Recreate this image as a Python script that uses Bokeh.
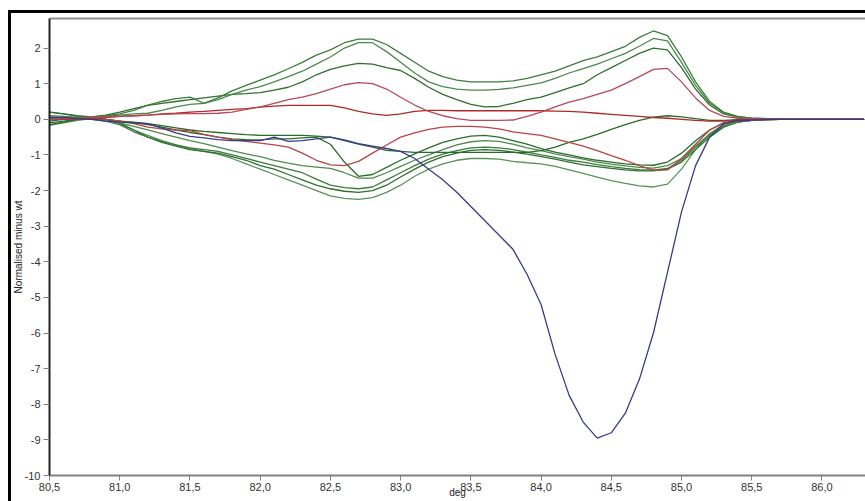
from bokeh.plotting import figure
from bokeh.models import FixedTicker, LinearAxis, Range1d
from bokeh.embed import file_html
from bokeh.resources import INLINE

deg = [80.5, 80.6, 80.7, 80.8, 80.9, 81.0, 81.1, 81.2, 81.3, 81.4,
       81.5, 81.6, 81.7, 81.8, 81.9, 82.0, 82.1, 82.2, 82.3, 82.4,
       82.5, 82.6, 82.7, 82.8, 82.9, 83.0, 83.1, 83.2, 83.3, 83.4,
       83.5, 83.6, 83.7, 83.8, 83.9, 84.0, 84.1, 84.2, 84.3, 84.4,
       84.5, 84.6, 84.7, 84.8, 84.9, 85.0, 85.1, 85.2, 85.3, 85.4,
       85.5, 85.6, 85.7, 85.8, 85.9, 86.0, 86.1, 86.2, 86.3]

upper_green_1 = [0.05, 0.05, 0.05, 0.06, 0.10, 0.15, 0.25, 0.40, 0.50, 0.58,
                 0.62, 0.45, 0.60, 0.80, 0.95, 1.10, 1.25, 1.42, 1.60, 1.80,
                 1.95, 2.15, 2.25, 2.25, 2.10, 1.85, 1.60, 1.35, 1.20, 1.10,
                 1.05, 1.05, 1.05, 1.08, 1.15, 1.25, 1.35, 1.50, 1.65, 1.75,
                 1.90, 2.05, 2.30, 2.48, 2.35, 1.75, 1.05, 0.50, 0.20, 0.08,
                 0.03, 0.02, 0.01, 0.01, 0.00, 0.00, 0.00, 0.00, 0.00]
upper_green_2 = [0.10, 0.08, 0.05, 0.05, 0.08, 0.12, 0.15, 0.17, 0.25, 0.35,
                 0.42, 0.45, 0.55, 0.70, 0.82, 0.92, 1.05, 1.20, 1.35, 1.55,
                 1.75, 2.00, 2.15, 2.15, 1.90, 1.60, 1.30, 1.05, 0.92, 0.85,
                 0.82, 0.82, 0.84, 0.88, 0.95, 1.02, 1.15, 1.30, 1.42, 1.55,
                 1.70, 1.85, 2.05, 2.27, 2.20, 1.60, 0.95, 0.45, 0.18, 0.07,
                 0.03, 0.02, 0.01, 0.01, 0.00, 0.00, 0.00, 0.00, 0.00]
upper_green_3 = [0.20, 0.15, 0.10, 0.07, 0.12, 0.20, 0.30, 0.39, 0.45, 0.50,
                 0.55, 0.60, 0.65, 0.70, 0.72, 0.75, 0.82, 0.90, 1.05, 1.25,
                 1.40, 1.50, 1.57, 1.55, 1.45, 1.37, 1.15, 0.90, 0.70, 0.55,
                 0.42, 0.35, 0.36, 0.45, 0.55, 0.62, 0.75, 0.88, 1.00, 1.25,
                 1.45, 1.65, 1.85, 2.00, 1.95, 1.45, 0.85, 0.40, 0.15, 0.06,
                 0.03, 0.02, 0.01, 0.00, 0.00, 0.00, 0.00, 0.00, 0.00]
upper_red = [0.00, 0.02, 0.03, 0.05, 0.06, 0.08, 0.10, 0.12, 0.14, 0.15,
             0.16, 0.16, 0.17, 0.20, 0.28, 0.35, 0.45, 0.55, 0.62, 0.72,
             0.85, 0.97, 1.03, 1.00, 0.85, 0.62, 0.40, 0.22, 0.10, 0.02,
             -0.03, -0.03, -0.03, -0.02, 0.08, 0.20, 0.35, 0.48, 0.58, 0.70,
             0.82, 1.00, 1.20, 1.40, 1.43, 1.05, 0.60, 0.25, 0.08, 0.03,
             0.02, 0.01, 0.00, 0.00, 0.00, 0.00, 0.00, 0.00, 0.00]
middle_red = [0.00, 0.00, 0.02, 0.03, 0.05, 0.08, 0.10, 0.12, 0.15, 0.17,
              0.20, 0.22, 0.25, 0.28, 0.30, 0.34, 0.37, 0.39, 0.39, 0.39,
              0.39, 0.32, 0.22, 0.15, 0.11, 0.15, 0.22, 0.25, 0.25, 0.24,
              0.24, 0.24, 0.24, 0.24, 0.24, 0.24, 0.23, 0.22, 0.20, 0.17,
              0.14, 0.11, 0.08, 0.05, 0.03, 0.00, -0.03, -0.05, -0.05, -0.03,
              -0.01, 0.00, 0.00, 0.00, 0.00, 0.00, 0.00, 0.00, 0.00]
lower_red = [0.00, 0.00, 0.02, 0.03, 0.00, -0.05, -0.12, -0.22, -0.27, -0.30,
             -0.32, -0.42, -0.50, -0.57, -0.62, -0.67, -0.72, -0.78, -0.95, -1.15,
             -1.28, -1.30, -1.18, -0.95, -0.72, -0.50, -0.38, -0.28, -0.22, -0.20,
             -0.20, -0.22, -0.27, -0.35, -0.40, -0.45, -0.55, -0.65, -0.75, -0.88,
             -1.02, -1.15, -1.30, -1.43, -1.42, -1.10, -0.70, -0.30, -0.10, -0.04,
             -0.02, -0.01, 0.00, 0.00, 0.00, 0.00, 0.00, 0.00, 0.00]
rising_green = [-0.15, -0.08, 0.00, 0.00, 0.00, -0.05, -0.08, -0.12, -0.18, -0.24,
                -0.30, -0.34, -0.37, -0.40, -0.43, -0.45, -0.45, -0.45, -0.45, -0.47,
                -0.50, -0.60, -0.70, -0.78, -0.87, -0.90, -0.93, -0.93, -0.93, -0.93,
                -0.93, -0.93, -0.93, -0.93, -0.93, -0.88, -0.78, -0.65, -0.55, -0.42,
                -0.28, -0.15, -0.03, 0.06, 0.10, 0.07, 0.02, -0.03, -0.03, -0.01,
                0.00, 0.00, 0.00, 0.00, 0.00, 0.00, 0.00, 0.00, 0.00]
lower_green_1 = [-0.05, 0.00, 0.03, 0.03, 0.00, -0.05, -0.10, -0.15, -0.22, -0.30,
                 -0.37, -0.43, -0.50, -0.55, -0.57, -0.58, -0.55, -0.55, -0.52, -0.50,
                 -0.70, -1.20, -1.60, -1.55, -1.35, -1.15, -0.97, -0.80, -0.65, -0.55,
                 -0.47, -0.45, -0.50, -0.60, -0.70, -0.82, -0.92, -1.00, -1.08, -1.15,
                 -1.20, -1.25, -1.28, -1.29, -1.20, -0.95, -0.60, -0.30, -0.10, -0.04,
                 -0.02, -0.01, 0.00, 0.00, 0.00, 0.00, 0.00, 0.00, 0.00]
lower_green_2 = [0.05, 0.03, 0.02, 0.00, -0.05, -0.10, -0.20, -0.30, -0.40, -0.50,
                 -0.60, -0.68, -0.78, -0.88, -0.97, -1.05, -1.15, -1.23, -1.30, -1.34,
                 -1.38, -1.50, -1.65, -1.65, -1.50, -1.32, -1.15, -1.00, -0.85, -0.72,
                 -0.63, -0.60, -0.62, -0.70, -0.80, -0.88, -0.97, -1.05, -1.12, -1.20,
                 -1.26, -1.31, -1.35, -1.37, -1.30, -1.10, -0.75, -0.42, -0.18, -0.07,
                 -0.03, -0.01, 0.00, 0.00, 0.00, 0.00, 0.00, 0.00, 0.00]
lower_green_3 = [0.20, 0.15, 0.08, 0.03, -0.05, -0.15, -0.35, -0.50, -0.62, -0.72,
                 -0.80, -0.85, -0.90, -1.00, -1.10, -1.20, -1.30, -1.40, -1.50, -1.68,
                 -1.85, -1.92, -1.95, -1.90, -1.70, -1.50, -1.30, -1.12, -0.98, -0.88,
                 -0.80, -0.78, -0.80, -0.85, -0.92, -1.00, -1.07, -1.15, -1.20, -1.27,
                 -1.33, -1.38, -1.41, -1.43, -1.38, -1.15, -0.78, -0.45, -0.20, -0.08,
                 -0.03, -0.01, 0.00, 0.00, 0.00, 0.00, 0.00, 0.00, 0.00]
lower_green_4 = [-0.10, -0.05, 0.00, 0.03, 0.00, -0.10, -0.30, -0.50, -0.65, -0.75,
                 -0.85, -0.90, -0.95, -1.05, -1.15, -1.30, -1.40, -1.55, -1.70, -1.85,
                 -1.95, -2.02, -2.05, -2.00, -1.85, -1.62, -1.40, -1.20, -1.05, -0.95,
                 -0.87, -0.85, -0.87, -0.92, -0.98, -1.05, -1.12, -1.20, -1.28, -1.33,
                 -1.38, -1.42, -1.45, -1.45, -1.40, -1.20, -0.85, -0.50, -0.22, -0.08,
                 -0.03, -0.01, 0.00, 0.00, 0.00, 0.00, 0.00, 0.00, 0.00]
lower_green_5 = [-0.17, -0.10, -0.03, 0.02, 0.00, -0.12, -0.30, -0.45, -0.60, -0.72,
                 -0.82, -0.90, -0.98, -1.10, -1.25, -1.40, -1.55, -1.70, -1.85, -2.00,
                 -2.15, -2.22, -2.25, -2.20, -2.05, -1.85, -1.60, -1.40, -1.25, -1.15,
                 -1.10, -1.10, -1.12, -1.18, -1.22, -1.25, -1.32, -1.42, -1.52, -1.62,
                 -1.72, -1.80, -1.87, -1.90, -1.82, -1.40, -0.85, -0.40, -0.15, -0.06,
                 -0.03, -0.01, 0.00, 0.00, 0.00, 0.00, 0.00, 0.00, 0.00]
blue_curve = [0.05, 0.05, 0.02, 0.00, -0.05, -0.08, -0.10, -0.12, -0.25, -0.38,
              -0.48, -0.52, -0.57, -0.60, -0.60, -0.60, -0.50, -0.62, -0.60, -0.55,
              -0.50, -0.58, -0.68, -0.75, -0.82, -0.90, -1.10, -1.40, -1.70, -2.05,
              -2.45, -2.85, -3.25, -3.65, -4.35, -5.20, -6.60, -7.75, -8.50, -8.95,
              -8.80, -8.25, -7.30, -6.00, -4.30, -2.60, -1.30, -0.50, -0.12, -0.04,
              -0.02, 0.00, 0.00, 0.00, 0.00, 0.00, 0.00, 0.00, 0.00]

x_ticks = [80.5, 81.0, 81.5, 82.0, 82.5, 83.0, 83.5, 84.0, 84.5, 85.0, 85.5, 86.0]
x_tick_labels = ["80,5", "81,0", "81,5", "82,0", "82,5", "83,0",
                 "83,5", "84,0", "84,5", "85,0", "85,5", "86,0"]
y_ticks = [-10, -9, -8, -7, -6, -5, -4, -3, -2, -1, 0, 1, 2]
y_tick_labels = ["-10", "-9", "-8", "-7", "-6", "-5", "-4", "-3", "-2", "-1", "0", "1", "2"]

series = [
    (lower_green_5, "#5a925a"),
    (lower_green_4, "#2e6e2e"),
    (lower_green_3, "#3b7b3b"),
    (lower_green_2, "#4d8b4d"),
    (lower_green_1, "#2a6e2a"),
    (rising_green, "#2a6a2a"),
    (upper_green_3, "#2f6f2f"),
    (upper_green_2, "#4a8a4a"),
    (upper_green_1, "#3d7d3d"),
    (lower_red, "#b84545"),
    (middle_red, "#b02828"),
    (upper_red, "#b8485a"),
    (blue_curve, "#3a3a8c"),
]

FONT = "Liberation Sans"

p = figure(width=865, height=501, output_backend="svg", toolbar_location=None,
           x_range=Range1d(80.5, 86.31), y_range=Range1d(-10, 2.83),
           min_border_left=49, min_border_right=0, min_border_top=18, min_border_bottom=26)
# outer black frame (left and top edges) painted behind a transparent canvas border
p.styles = {
    "background-color": "white",
    "background-image": "linear-gradient(#000, #000), linear-gradient(#000, #000)",
    "background-size": "3px 100%, 100% 3px",
    "background-position": "8px 10px, 8px 10px",
    "background-repeat": "no-repeat",
}
p.grid.visible = False
p.outline_line_color = None
p.background_fill_color = "white"
p.border_fill_color = None

for ys, col in series:
    p.line(deg, ys, line_color=col, line_width=1.3)

xa = p.xaxis[0]
xa.ticker = FixedTicker(ticks=x_ticks)
xa.major_label_overrides = dict(zip(x_ticks, x_tick_labels))
xa.axis_line_color = "#808080"
xa.axis_line_width = 2
xa.major_tick_line_color = "#808080"
xa.major_tick_out = 5
xa.major_tick_in = 0
xa.minor_tick_line_color = None
xa.major_label_text_font = FONT
xa.major_label_text_font_size = "11px"
xa.major_label_text_color = "#333333"
xa.major_label_standoff = 2
xa.axis_label = "deg"
xa.axis_label_text_font = FONT
xa.axis_label_text_font_size = "10px"
xa.axis_label_text_font_style = "normal"
xa.axis_label_text_color = "#222222"
xa.axis_label_text_align = "right"
xa.axis_label_standoff = -7

ya = p.yaxis[0]
ya.ticker = FixedTicker(ticks=y_ticks)
ya.major_label_overrides = dict(zip(y_ticks, y_tick_labels))
ya.axis_line_color = "#222222"
ya.axis_line_width = 2
ya.major_tick_line_color = "#808080"
ya.major_tick_out = 6
ya.major_tick_in = 0
ya.minor_tick_line_color = None
ya.major_label_text_font = FONT
ya.major_label_text_font_size = "11px"
ya.major_label_text_color = "#333333"
ya.major_label_standoff = 3
ya.axis_label = "Normalised minus wt"
ya.axis_label_text_font = FONT
ya.axis_label_text_font_size = "10px"
ya.axis_label_text_font_style = "normal"
ya.axis_label_text_color = "#222222"
ya.axis_label_standoff = -2

top = LinearAxis(ticker=FixedTicker(ticks=[]), axis_line_color="#909090", axis_line_width=2,
                 major_label_text_font_size="0px", major_tick_line_color=None,
                 minor_tick_line_color=None)
p.add_layout(top, "above")

open("out.html", "w").write(file_html(p, INLINE))
